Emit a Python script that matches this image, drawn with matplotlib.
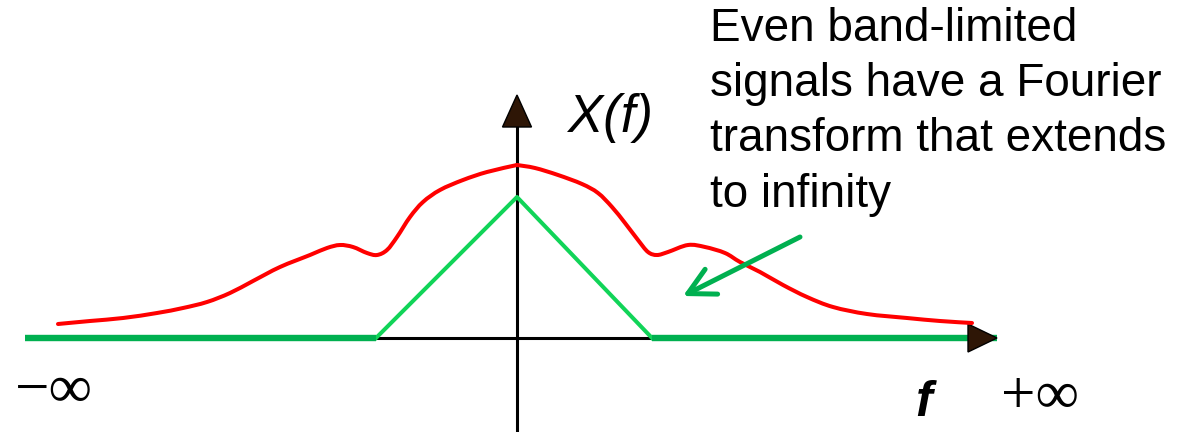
import numpy as np
import matplotlib.pyplot as plt
from matplotlib.path import Path
from matplotlib.patches import PathPatch

# red spectrum X(f) (left half ends at the peak f=0)
red_f = [-4.59, -4.27, -3.94, -3.60, -3.34, -3.10, -2.87, -2.64, -2.37,
         -2.07, -1.90, -1.77, -1.64, -1.50, -1.40, -1.30, -1.20, -1.07, -0.94,
         -0.77, -0.54, -0.30, 0.00,
         0.18, 0.41, 0.65, 0.81, 0.95, 1.08, 1.21, 1.31, 1.40, 1.51, 1.71,
         1.88, 2.08, 2.23, 2.43, 2.66, 2.90, 3.16, 3.50, 3.90, 4.23, 4.55]
red_x = [0.14, 0.17, 0.20, 0.25, 0.30, 0.36, 0.45, 0.57, 0.71,
         0.83, 0.90, 0.93, 0.91, 0.85, 0.83, 0.88, 1.01, 1.21, 1.36,
         1.48, 1.58, 1.66, 1.73,
         1.70, 1.63, 1.54, 1.45, 1.31, 1.15, 0.98, 0.86, 0.83, 0.86, 0.93,
         0.91, 0.85, 0.76, 0.66, 0.53, 0.41, 0.31, 0.24, 0.20, 0.17, 0.15]

# green triangle spectrum (band-limited)
tri_f = [-1.41, 0.0, 1.35]
tri_x = [0.0, 1.41, 0.0]

# green zero parts out to +/- infinity
zero_left_f = [-4.92, -1.41]
zero_right_f = [1.35, 4.80]

note = "Even band-limited\nsignals have a Fourier\ntransform that extends\nto infinity"


def smooth_path(xs, ys):
    # bezier path through the points (catmull-rom tangents), just for rendering
    p = np.column_stack([xs, ys])
    verts = [p[0]]
    codes = [Path.MOVETO]
    for i in range(len(p) - 1):
        p0 = p[max(i - 1, 0)]
        p1, p2 = p[i], p[i + 1]
        p3 = p[min(i + 2, len(p) - 1)]
        verts += [p1 + (p2 - p0) / 6, p2 - (p3 - p1) / 6, p2]
        codes += [Path.CURVE4] * 3
    return Path(verts, codes)


fig = plt.figure(figsize=(11.93, 4.32), dpi=100)
ax = fig.add_axes([0, 0, 1, 1])
ax.set_xlim(-5.17, 6.76)
ax.set_ylim(-0.94, 3.38)
ax.axis('off')

# axes with arrow heads
ax.plot([-4.87, 4.60], [0, 0], color='black', lw=2.2, zorder=2)
ax.plot([0, 0], [-0.92, 2.20], color='black', lw=2.2, zorder=2)
ax.fill([4.51, 4.80, 4.51], [0.14, 0, -0.14], facecolor='#2e1606',
        edgecolor='black', lw=1, zorder=5)
ax.fill([-0.145, 0, 0.145], [2.11, 2.43, 2.11], facecolor='#2e1606',
        edgecolor='black', lw=1, zorder=5)

# green band-limited spectrum
ax.plot(zero_left_f, [0, 0], color='#00b050', lw=4.6, solid_capstyle='butt', zorder=4)
ax.plot(zero_right_f, [0, 0], color='#00b050', lw=4.6, solid_capstyle='butt', zorder=4)
ax.plot(tri_f, tri_x, color='#11d458', lw=2.9, zorder=3)

# red spectrum, two halves so the peak stays pointed
k = red_f.index(0.0)
for fs, xs in [(red_f[:k + 1], red_x[:k + 1]), (red_f[k:], red_x[k:])]:
    ax.add_patch(PathPatch(smooth_path(fs, xs), facecolor='none',
                           edgecolor='#ff0000', lw=2.9, capstyle='round',
                           joinstyle='round', zorder=6))

# annotation arrow
ax.annotate('', xy=(1.66, 0.42), xytext=(2.83, 1.01),
            arrowprops=dict(arrowstyle='->,head_length=1.9,head_width=1.0',
                            color='#00b050', lw=3.6, shrinkA=0, shrinkB=0,
                            capstyle='round'),
            zorder=7)

ax.text(1.93, 3.31, note, fontsize=33, family='Liberation Sans',
        va='top', ha='left', linespacing=1.33)
ax.text(0.51, 2.06, 'X(f)', fontsize=38, family='Liberation Sans',
        style='italic', va='baseline', ha='left')
ax.text(3.98, -0.78, 'f', fontsize=36, family='Liberation Sans',
        style='italic', weight='bold', va='baseline', ha='left')
ax.text(-5.02, -0.54, '\u2212\u221e', fontsize=44, family='Liberation Serif',
        va='center', ha='left')
ax.text(4.84, -0.60, '+\u221e', fontsize=44, family='Liberation Serif',
        va='center', ha='left')

fig.savefig('out.png', dpi=100)
